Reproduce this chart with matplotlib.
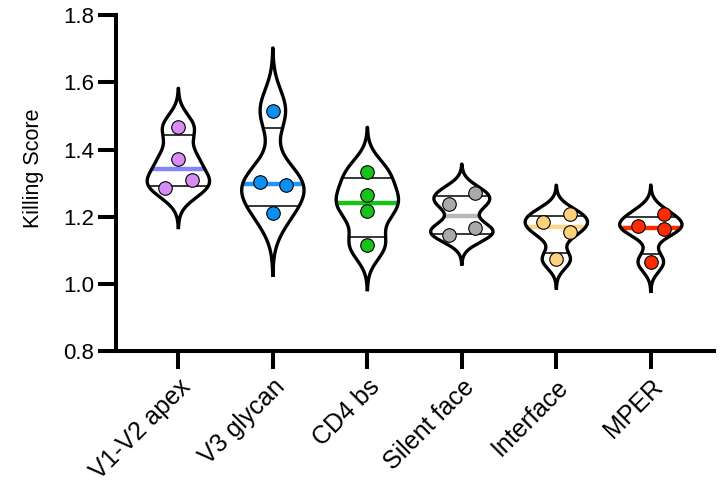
import numpy as np
import matplotlib
matplotlib.use('Agg')
import matplotlib.pyplot as plt

plt.rcParams['font.family'] = ['Liberation Sans', 'DejaVu Sans']

# killing scores per epitope class (4 donors each)
groups = ['V1-V2 apex', 'V3 glycan', 'CD4 bs', 'Silent face', 'Interface', 'MPER']
v1v2 = [1.466, 1.373, 1.310, 1.284]
v3_glycan = [1.516, 1.304, 1.293, 1.212]
cd4_bs = [1.334, 1.264, 1.216, 1.115]
silent_face = [1.271, 1.238, 1.165, 1.145]
interface = [1.209, 1.184, 1.154, 1.073]
mper = [1.207, 1.172, 1.162, 1.065]
scores = [v1v2, v3_glycan, cd4_bs, silent_face, interface, mper]

point_colors = ['#d88cf5', '#0a90f2', '#17c21a', '#a9a9a9', '#fdd07c', '#ff2a00']
median_colors = ['#8585f5', '#2196f3', '#17c21a', '#b8b8b8', '#fdd68c', '#ff2a00']
# horizontal spread of dots so they don't overlap (-1 left, 0 centre, 1 right)
dot_side = [[0, 0, 1, -1], [0, -1, 1, 0], [0, 0, 0, 0],
            [1, -1, 1, -1], [1, -1, 1, 0], [1, -1, 1, 0]]

half_width = 0.33
dot_step = 0.14


def kde(vals):
    vals = np.asarray(vals)
    bw = 0.4776 * np.std(vals, ddof=1)
    y = np.linspace(vals.min() - 3 * bw, vals.max() + 3 * bw, 400)
    d = np.exp(-0.5 * ((y[:, None] - vals[None, :]) / bw) ** 2).sum(axis=1)
    return y, d / d.max() * half_width


fig = plt.figure(figsize=(7.25, 4.87), dpi=100)
ax = fig.add_axes([0.160, 0.279, 0.825, 0.690])

for i, vals in enumerate(scores):
    y, w = kde(vals)
    xs = np.concatenate([i - w, (i + w)[::-1]])
    ys = np.concatenate([y, y[::-1]])
    ax.fill(xs, ys, color='white', zorder=1)

    q1, med, q3 = np.percentile(vals, [25, 50, 75], method='weibull')
    for q in (q1, q3):
        hw = np.interp(q, y, w)
        ax.plot([i - hw, i + hw], [q, q], color='black', lw=1.1, zorder=2)
    hw = np.interp(med, y, w)
    ax.plot([i - hw, i + hw], [med, med], color=median_colors[i], lw=3.2,
            solid_capstyle='butt', zorder=2)

    ax.plot(xs, ys, color='black', lw=2.4, zorder=3, solid_joinstyle='round')

    px = [i + s * dot_step for s in dot_side[i]]
    ax.scatter(px, vals, s=95, color=point_colors[i], edgecolor='black',
               linewidth=0.8, zorder=4)

ax.set_xlim(-0.66, 5.67)
ax.set_ylim(0.8, 1.8)
ax.set_yticks([0.8, 1.0, 1.2, 1.4, 1.6, 1.8])
ax.set_yticklabels(['0.8', '1.0', '1.2', '1.4', '1.6', '1.8'])
ax.set_xticks(range(len(groups)))
ax.set_xticklabels(groups, rotation=45, ha='right', rotation_mode='anchor')
ax.set_ylabel('Killing Score', fontsize=15.5)
ax.yaxis.set_label_coords(-0.12, 0.545)

for side in ('top', 'right'):
    ax.spines[side].set_visible(False)
for side in ('left', 'bottom'):
    ax.spines[side].set_linewidth(2.9)
ax.tick_params(axis='both', width=2.9, length=13)
ax.tick_params(axis='y', labelsize=16, pad=3)
ax.tick_params(axis='x', labelsize=18, pad=4)

fig.savefig('out.png', dpi=100)
